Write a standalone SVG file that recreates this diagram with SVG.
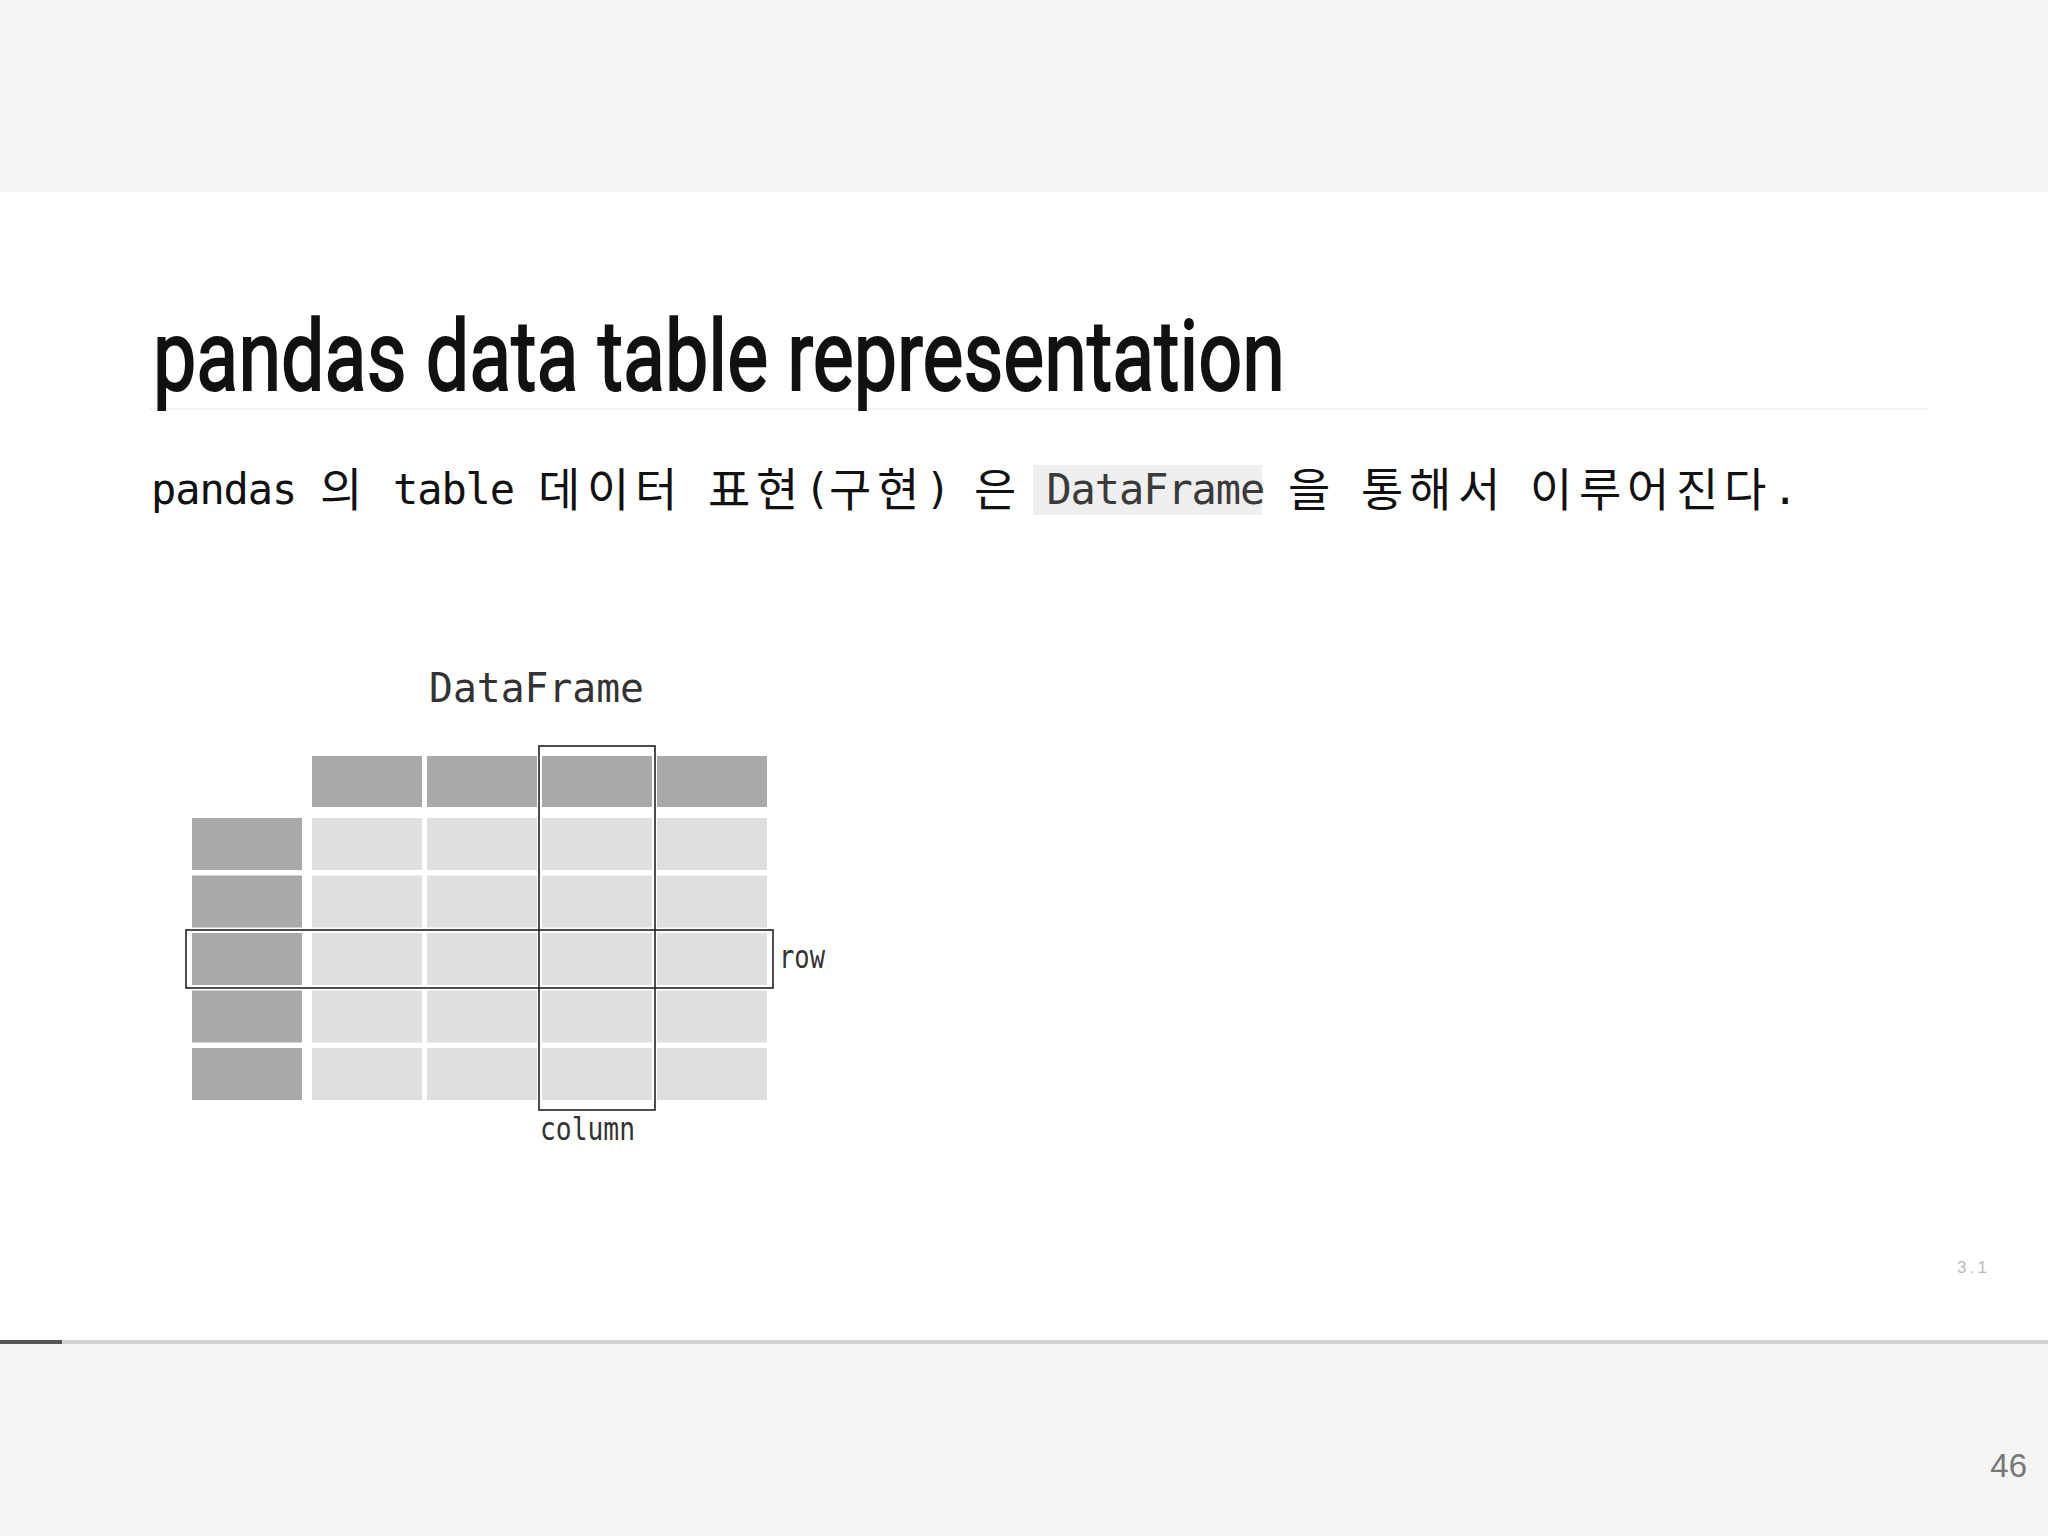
<svg xmlns="http://www.w3.org/2000/svg" width="2048" height="1536" viewBox="0 0 2048 1536">
<style>
.mono{font-family:"DejaVu Sans Mono","Liberation Mono",monospace}
.ko{font-family:"Noto Sans CJK KR","DejaVu Sans",sans-serif}
.hdr{fill:#aaa9a9}
.idx{fill:#aaa8a8}
.cell{fill:#e0dfe0}
.hl{fill:none;stroke:#222;stroke-width:1.6}
.lbl{font-family:"DejaVu Sans Mono","Liberation Mono",monospace;fill:#333}
</style>
<rect x="0" y="0" width="2048" height="1536" fill="#ffffff"/>
<rect x="0" y="0" width="2048" height="192" fill="#f5f5f5"/>
<rect x="0" y="1343" width="2048" height="193" fill="#f4f4f5"/>
<rect x="0" y="1340" width="2048" height="4" fill="#d2d2d4"/>
<rect x="0" y="1340" width="62" height="4" fill="#555555"/>
<line x1="150" y1="409" x2="1927" y2="409" stroke="#f3f3f3" stroke-width="2"/>

<g id="title">
<text x="153" y="390" font-family="Roboto,'Liberation Sans',sans-serif" font-weight="400" font-size="98" fill="#111" stroke="#111" stroke-width="2" textLength="1132" lengthAdjust="spacingAndGlyphs">pandas data table representation</text>
</g>

<g id="subtitle">
<rect x="1033" y="465" width="229" height="50" fill="#efefef"/>
<text y="504" font-size="42" fill="#111">
<tspan class="mono" x="151 175.2 199.4 223.6 247.8 272">pandas</tspan>
<tspan class="ko" font-size="46" y="506" x="320">의</tspan>
<tspan class="mono" y="504" x="393 417.2 441.4 465.6 489.8">table</tspan>
<tspan class="ko" font-size="46" y="506" x="538 587 635">데이터</tspan>
<tspan class="ko" font-size="46" y="506" x="708 756">표현</tspan>
<tspan class="mono" y="504" x="804.4">(</tspan>
<tspan class="ko" font-size="46" y="506" x="829 877">구현</tspan>
<tspan class="mono" y="504" x="925.4">)</tspan>
<tspan class="ko" font-size="46" y="506" x="974">은</tspan>
<tspan class="mono" y="504" fill="#3a3a3a" x="1046.4 1070.6 1094.8 1119 1143.2 1167.4 1191.6 1215.8 1240">DataFrame</tspan>
<tspan class="ko" font-size="46" y="506" x="1288">을</tspan>
<tspan class="ko" font-size="46" y="506" x="1361 1409 1458">통해서</tspan>
<tspan class="ko" font-size="46" y="506" x="1530 1579 1627 1676 1724">이루어진다</tspan>
<tspan class="mono" y="504" x="1772.4">.</tspan>
</text>
</g>

<g id="dataframe-label">
<text class="lbl" x="429" y="702" font-size="41" textLength="215" lengthAdjust="spacingAndGlyphs">DataFrame</text>
</g>

<g id="header-row">
<rect class="hdr" x="312" y="756" width="110" height="51"/>
<rect class="hdr" x="427" y="756" width="110" height="51"/>
<rect class="hdr" x="542" y="756" width="110" height="51"/>
<rect class="hdr" x="657" y="756" width="110" height="51"/>
</g>

<g id="index-column">
<rect class="idx" x="192" y="818" width="110" height="52"/>
<rect class="idx" x="192" y="875.5" width="110" height="52"/>
<rect class="idx" x="192" y="933" width="110" height="52"/>
<rect class="idx" x="192" y="990.5" width="110" height="52"/>
<rect class="idx" x="192" y="1048" width="110" height="52"/>
</g>

<g id="data-cells">
<rect class="cell" x="312" y="818" width="110" height="52"/>
<rect class="cell" x="427" y="818" width="110" height="52"/>
<rect class="cell" x="542" y="818" width="110" height="52"/>
<rect class="cell" x="657" y="818" width="110" height="52"/>
<rect class="cell" x="312" y="875.5" width="110" height="52"/>
<rect class="cell" x="427" y="875.5" width="110" height="52"/>
<rect class="cell" x="542" y="875.5" width="110" height="52"/>
<rect class="cell" x="657" y="875.5" width="110" height="52"/>
<rect class="cell" x="312" y="933" width="110" height="52"/>
<rect class="cell" x="427" y="933" width="110" height="52"/>
<rect class="cell" x="542" y="933" width="110" height="52"/>
<rect class="cell" x="657" y="933" width="110" height="52"/>
<rect class="cell" x="312" y="990.5" width="110" height="52"/>
<rect class="cell" x="427" y="990.5" width="110" height="52"/>
<rect class="cell" x="542" y="990.5" width="110" height="52"/>
<rect class="cell" x="657" y="990.5" width="110" height="52"/>
<rect class="cell" x="312" y="1048" width="110" height="52"/>
<rect class="cell" x="427" y="1048" width="110" height="52"/>
<rect class="cell" x="542" y="1048" width="110" height="52"/>
<rect class="cell" x="657" y="1048" width="110" height="52"/>
</g>

<g id="column-highlight">
<rect class="hl" x="539" y="746" width="116" height="364"/>
<text class="lbl" x="540" y="1140" font-size="32" textLength="95" lengthAdjust="spacingAndGlyphs">column</text>
</g>

<g id="row-highlight">
<rect class="hl" x="186" y="930" width="587" height="58"/>
<text class="lbl" x="779" y="968" font-size="32" textLength="46" lengthAdjust="spacingAndGlyphs">row</text>
</g>

<g id="connectors"></g>

<g id="footer">
<text x="1957" y="1273" font-family="'Liberation Sans',sans-serif" font-size="17" fill="#bbbbbb" textLength="30" lengthAdjust="spacing">3.1</text>
<text x="2027" y="1477" text-anchor="end" font-family="'Liberation Sans',sans-serif" font-size="33" fill="#777777">46</text>
</g>
</svg>
